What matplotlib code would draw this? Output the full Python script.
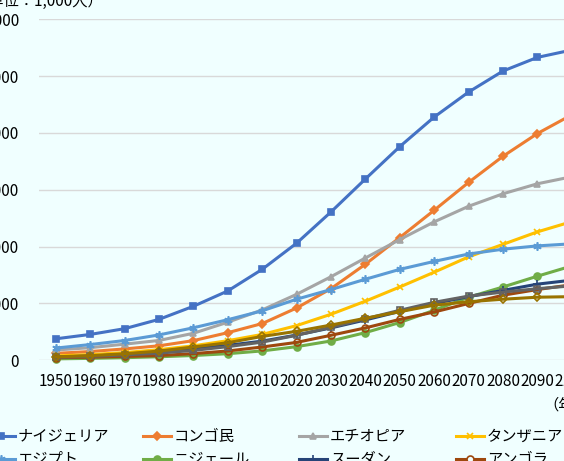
import numpy as np
import matplotlib.pyplot as plt
from matplotlib.ticker import FuncFormatter

plt.rcParams['font.family'] = ['Noto Sans CJK JP', 'DejaVu Sans']

# Data (unit: 1,000 people)
years = [1950, 1960, 1970, 1980, 1990, 2000, 2010, 2020, 2030, 2040,
         2050, 2060, 2070, 2080, 2090, 2100]

nigeria = [37800, 45500, 55600, 72000, 95000, 122000, 160000, 206000, 261000, 319000,
           376000, 428000, 472000, 509000, 533000, 546000]
congo = [12200, 15400, 20000, 25500, 34600, 48600, 64600, 92000, 126000, 169000,
         216000, 264000, 313000, 359000, 399000, 432000]
ethiopia = [18100, 22200, 28400, 34900, 47500, 67000, 88600, 116000, 147000, 180000,
            212500, 243600, 271000, 293000, 310600, 323000]
tanzania = [7700, 10000, 13600, 18700, 25500, 34500, 45500, 61000, 81000, 104000,
            129000, 155000, 182000, 204000, 226000, 244000]
egypt = [21500, 27700, 34800, 44600, 57200, 71400, 87000, 107500, 124500, 142600,
         160000, 174000, 187000, 195500, 201300, 205000]
niger = [2500, 3400, 4600, 6200, 8400, 11600, 16500, 24000, 34000, 48700,
         66500, 88000, 111000, 129000, 148000, 166000]
sudan = [5700, 7500, 10100, 14400, 20100, 26300, 33700, 44400, 57000, 71000,
         86000, 100000, 112000, 123000, 134000, 141000]
angola = [4500, 5400, 6800, 8300, 11800, 16400, 23400, 31500, 44000, 57000,
          72000, 85000, 100000, 114500, 124500, 133000]
uganda = [5200, 6800, 9400, 12600, 17400, 24000, 32000, 44000, 58000, 73000,
          88000, 102000, 113000, 120000, 126000, 131000]
kenya = [6100, 8100, 11500, 16200, 23400, 30900, 42000, 51000, 62000, 74000,
         85500, 97000, 103000, 107500, 111000, 112000]

names = ['ナイジェリア', 'コンゴ民', 'エチオピア', 'タンザニア', 'エジプト',
         'ニジェール', 'スーダン', 'アンゴラ', 'ウガンダ', 'ケニア']
series = [nigeria, congo, ethiopia, tanzania, egypt, niger, sudan, angola, uganda, kenya]
colors = ['#4472C4', '#ED7D31', '#A5A5A5', '#FFC000', '#5B9BD5',
          '#70AD47', '#264478', '#9E480E', '#636363', '#997300']
markers = ['s', 'D', '^', 'x', (6, 2, 0), 'o', '+', 'o', 's', 'D']
msizes = [5, 4, 5, 5, 6, 5, 6, 5, 5, 4]
hollow = [False] * 7 + [True] * 3

bg = '#F0FFFF'
fig = plt.figure(figsize=(5.64, 4.61), dpi=100, facecolor=bg)
W, H = 564, 461
ax = fig.add_axes([38.5 / W, 1 - 360.3 / H, (589 - 38.5) / W, (360.3 - 19.3) / H])
ax.set_facecolor(bg)

x = np.arange(len(years))
for vals, name, c, m, ms, ho in zip(series, names, colors, markers, msizes, hollow):
    ax.plot(x, vals, color=c, lw=2.2, marker=m, markersize=ms,
            markerfacecolor='none' if ho else c, markeredgecolor=c,
            markeredgewidth=1.2, label=name, clip_on=False)

ax.set_xlim(-0.5, len(years) - 0.5)
ax.set_ylim(0, 600000)
ax.set_yticks(np.arange(0, 600001, 100000))
ax.yaxis.set_major_formatter(FuncFormatter(lambda v, p: f'{int(v):,}'))
ax.set_xticks(x)
ax.set_xticklabels([str(y) for y in years])
ax.tick_params(axis='both', length=0, labelsize=11, colors='black')
ax.tick_params(axis='y', pad=14)
ax.tick_params(axis='x', pad=9)
ax.grid(axis='y', color='#D9D9D9', lw=1)
ax.set_axisbelow(True)
for s in ax.spines.values():
    s.set_visible(False)

fig.text(-27 / W, 1 - 1 / H, '（単位：1,000人）', fontsize=11, va='center', ha='left')
fig.text(543 / W, 1 - 405 / H, '（年）', fontsize=11, va='center', ha='left')

# legend drawn in pixel coordinates, 4 columns
lax = fig.add_axes([0, 0, 1, 1], facecolor='none')
lax.set_xlim(0, W)
lax.set_ylim(H, 0)
lax.axis('off')
col_x = [-13, 143, 299, 456]
row_y = [436, 459, 482]
for i, (name, c, m, ms, ho) in enumerate(zip(names, colors, markers, msizes, hollow)):
    x0 = col_x[i % 4]
    y0 = row_y[i // 4]
    lax.plot([x0, x0 + 28], [y0, y0], color=c, lw=2.2)
    lax.plot([x0 + 14], [y0], marker=m, markersize=ms, color=c,
             markerfacecolor=bg if ho else c, markeredgewidth=1.2)
    lax.text(x0 + 31, y0, name, fontsize=11, va='center', ha='left')

fig.savefig('out.png', dpi=100, facecolor=bg)
